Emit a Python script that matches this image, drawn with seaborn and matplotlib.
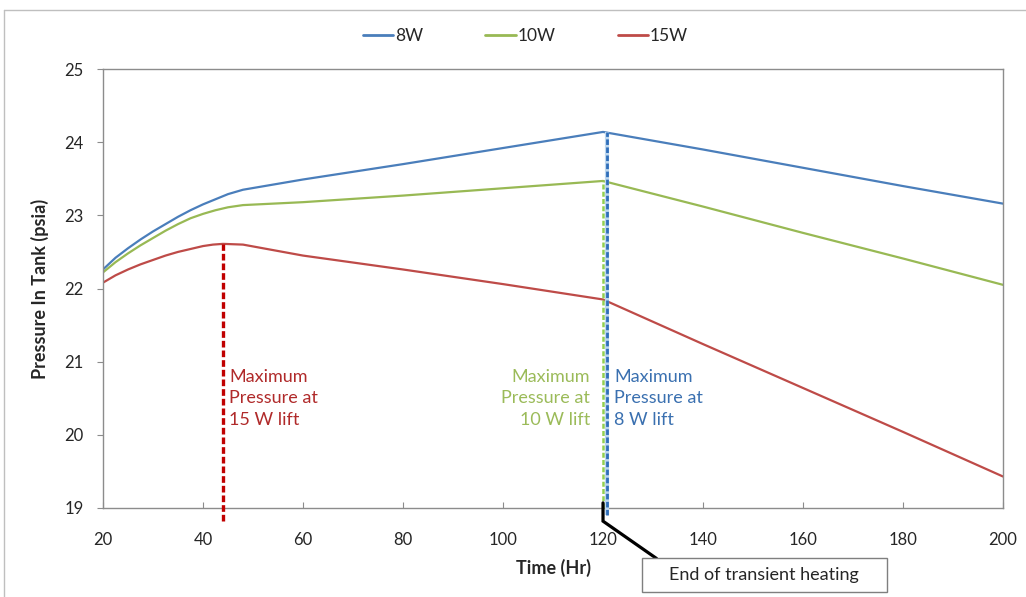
import numpy as np
import pandas as pd
import matplotlib
matplotlib.use("Agg")
import matplotlib.pyplot as plt
import matplotlib.transforms as mtransforms
from matplotlib.patches import Rectangle
from matplotlib.lines import Line2D
import seaborn as sns

# ---- data ----
time_8w = [20, 22.5, 25, 27.5, 30, 32.5, 35, 37.5, 40, 42.5, 45, 48, 60, 80, 100, 120, 140, 160, 180, 200]
p_8w = [22.26, 22.42, 22.55, 22.67, 22.78, 22.88, 22.98, 23.07, 23.15, 23.22, 23.29, 23.35, 23.49, 23.70, 23.92, 24.14, 23.90, 23.65, 23.40, 23.16]
time_10w = [20, 22.5, 25, 27.5, 30, 32.5, 35, 37.5, 40, 42.5, 45, 48, 60, 80, 100, 120, 140, 160, 180, 200]
p_10w = [22.22, 22.36, 22.48, 22.59, 22.69, 22.79, 22.88, 22.96, 23.02, 23.07, 23.11, 23.14, 23.18, 23.27, 23.37, 23.47, 23.12, 22.76, 22.41, 22.05]
time_15w = [20, 22.5, 25, 27.5, 30, 32.5, 35, 37.5, 40, 42, 44, 48, 60, 80, 100, 120, 140, 160, 180, 200]
p_15w = [22.08, 22.18, 22.26, 22.33, 22.39, 22.45, 22.50, 22.54, 22.58, 22.60, 22.61, 22.60, 22.45, 22.26, 22.06, 21.85, 21.24, 20.64, 20.04, 19.43]

series_names = ["8W", "10W", "15W"]
x_ticks = [20, 40, 60, 80, 100, 120, 140, 160, 180, 200]
y_ticks = [19, 20, 21, 22, 23, 24, 25]
end_heating_time = 120
note_text = "End of transient heating"
max_labels = {"8W": "Maximum\nPressure at\n8 W lift",
              "10W": "Maximum\nPressure at\n10 W lift",
              "15W": "Maximum\nPressure at\n15 W lift"}

line_colors = {"8W": "#4A7EBB", "10W": "#98B954", "15W": "#BE4B48"}
marker_colors = {"8W": "#2F6EBA", "10W": "#92D050", "15W": "#C00000"}
text_colors = {"8W": "#3A70B0", "10W": "#9BBB59", "15W": "#B02A2A"}

df = pd.concat([
    pd.DataFrame({"Time": time_8w, "Pressure": p_8w, "Series": "8W"}),
    pd.DataFrame({"Time": time_10w, "Pressure": p_10w, "Series": "10W"}),
    pd.DataFrame({"Time": time_15w, "Pressure": p_15w, "Series": "15W"}),
], ignore_index=True)

sns.set_theme(style="white")
plt.rcParams["font.family"] = ["Lato", "DejaVu Sans"]
text_col = "#262626"

fig = plt.figure(figsize=(10.26, 5.97), dpi=100)
ax = fig.add_axes([0.1004, 0.1491, 0.8772, 0.7353])

sns.lineplot(data=df, x="Time", y="Pressure", hue="Series", hue_order=series_names,
             palette=line_colors, linewidth=1.6, ax=ax, legend=False, sort=True)

ax.set_xlim(20, 200)
ax.set_ylim(19, 25)
ax.set_xticks(x_ticks)
ax.set_yticks(y_ticks)
for s in ax.spines.values():
    s.set_color("#8C8C8C")
    s.set_linewidth(1.0)
ax.tick_params(axis="x", direction="in", length=4, width=0.8, color="#8C8C8C",
               pad=17, labelsize=12, labelcolor=text_col, bottom=True)
ax.tick_params(axis="y", direction="out", length=4, width=0.8, color="#8C8C8C",
               pad=10, labelsize=12, labelcolor=text_col, left=True)
ax.set_xlabel("Time (Hr)", fontsize=13, fontweight="bold", color=text_col, labelpad=8)
ax.set_ylabel("Pressure In Tank (psia)", fontsize=13, fontweight="bold", color=text_col, labelpad=11)

# ---- dashed lines at maximum pressure ----
series_data = {"8W": (time_8w, p_8w), "10W": (time_10w, p_10w), "15W": (time_15w, p_15w)}
offsets_px = {"8W": 3.5, "10W": 0, "15W": 0}
bottoms = {"8W": 18.9, "10W": 19.0, "15W": 18.82}
widths = {"8W": 2.0, "10W": 1.8, "15W": 2.4}
for name in ["15W", "10W", "8W"]:
    t, p = series_data[name]
    i = int(np.argmax(p))
    tr = mtransforms.offset_copy(ax.transData, fig=fig, x=offsets_px[name], y=0, units="dots")
    if name == "8W":
        ax.plot([t[i], t[i]], [bottoms[name], p[i]], color="#BDD7EE", lw=3.0,
                transform=tr, clip_on=False, solid_capstyle="butt", zorder=3)
    ax.plot([t[i], t[i]], [bottoms[name], p[i]], color=marker_colors[name], lw=widths[name],
            linestyle=(0, (2.0, 0.9)), transform=tr, clip_on=False, zorder=3)

# ---- text annotations ----
t15, p15 = series_data["15W"]
ax.text(t15[int(np.argmax(p15))] + 1.2, 20.9, max_labels["15W"], color=text_colors["15W"],
        fontsize=13, ha="left", va="top", linespacing=1.42)
ax.text(117.4, 20.9, max_labels["10W"], color=text_colors["10W"],
        fontsize=13, ha="right", va="top", linespacing=1.42, multialignment="right")
ax.text(122.2, 20.9, max_labels["8W"], color=text_colors["8W"],
        fontsize=13, ha="left", va="top", linespacing=1.42)

# ---- end of transient heating callout ----
ax.plot([end_heating_time, end_heating_time, 130.7], [19.07, 18.82, 18.31],
        color="black", lw=2.3, clip_on=False, zorder=4, solid_joinstyle="miter")
rect = Rectangle((127.7, 17.85), 49.0, 0.46, facecolor="white", edgecolor="#7F7F7F",
                 lw=1.0, clip_on=False, zorder=5)
ax.add_patch(rect)
ax.text(152.2, 18.08, note_text, ha="center", va="center", fontsize=13,
        color=text_col, zorder=6, clip_on=False)

# ---- legend ----
handles = [Line2D([0], [0], color=line_colors[n], lw=2) for n in series_names]
fig.legend(handles, series_names, loc="center", bbox_to_anchor=(0.512, 0.94), ncol=3,
           frameon=False, fontsize=12.5, handlelength=1.75, handletextpad=0.1,
           columnspacing=3.6, labelcolor=text_col)

# ---- outer border ----
fig.add_artist(Line2D([0.004, 0.004], [0.0, 0.984], color="#BFBFBF", lw=1.0,
                      transform=fig.transFigure))
fig.add_artist(Line2D([0.004, 1.0], [0.984, 0.984], color="#BFBFBF", lw=1.0,
                      transform=fig.transFigure))

fig.savefig("out.png", dpi=100)
